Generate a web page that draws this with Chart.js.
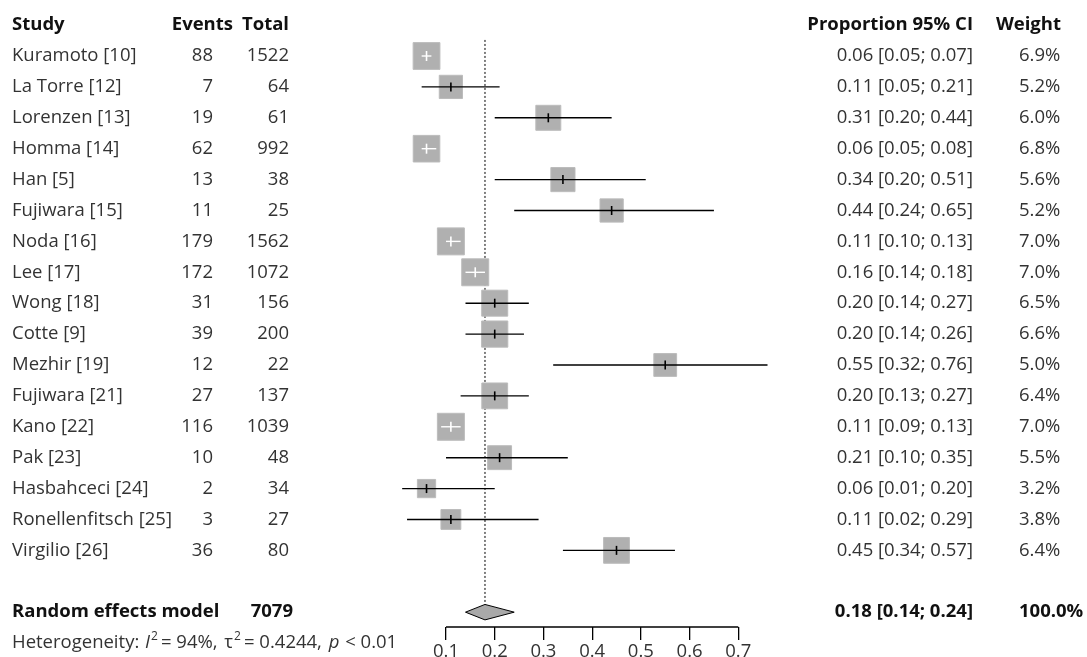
<!DOCTYPE html>
<html><head><meta charset="utf-8">
<script src="https://cdn.jsdelivr.net/npm/chart.js@4.4.1/dist/chart.umd.min.js"></script>
<style>html,body{margin:0;padding:0;background:#fff;overflow:hidden}#wrap{width:1087px;height:657px}</style>
</head><body><div id="wrap"><canvas id="c" width="1087" height="657"></canvas></div>
<script>
const studies = ["Kuramoto [10]","La Torre [12]","Lorenzen [13]","Homma [14]","Han [5]","Fujiwara [15]","Noda [16]","Lee [17]","Wong [18]","Cotte [9]","Mezhir [19]","Fujiwara [21]","Kano [22]","Pak [23]","Hasbahceci [24]","Ronellenfitsch [25]","Virgilio [26]"];
const events = [88,7,19,62,13,11,179,172,31,39,12,27,116,10,2,3,36];
const totals = [1522,64,61,992,38,25,1562,1072,156,200,22,137,1039,48,34,27,80];
const proportions = [0.06,0.11,0.31,0.06,0.34,0.44,0.11,0.16,0.20,0.20,0.55,0.20,0.11,0.21,0.06,0.11,0.45];
const ciLower = [0.05,0.05,0.20,0.05,0.20,0.24,0.10,0.14,0.14,0.14,0.32,0.13,0.09,0.10,0.01,0.02,0.34];
const ciUpper = [0.07,0.21,0.44,0.08,0.51,0.65,0.13,0.18,0.27,0.26,0.76,0.27,0.13,0.35,0.20,0.29,0.57];
const weights = [6.9,5.2,6.0,6.8,5.6,5.2,7.0,7.0,6.5,6.6,5.0,6.4,7.0,5.5,3.2,3.8,6.4];
const pooledEstimate = 0.18;
const pooledLower = 0.14;
const pooledUpper = 0.24;
const pooledTotal = 7079;
const pooledWeight = 100.0;
const axisTicks = [0.1,0.2,0.3,0.4,0.5,0.6,0.7];
const pooledRow = 18;
const hetRow = 19;

const FONT = '"Open Sans", "Noto Sans", sans-serif';
const FS = 18.5;
const side = i => 10.2 * Math.sqrt(weights[i]);
const inside = (chart, i) => {
  const xs = chart.scales.x;
  return (xs.getPixelForValue(ciUpper[i]) - xs.getPixelForValue(ciLower[i])) < side(i);
};

const squareData = studies.map((s, i) => ({x: proportions[i], y: i}));
const ciData = [];
studies.forEach((s, i) => { ciData.push({x: ciLower[i], y: i}, {x: ciUpper[i], y: i}, {x: null, y: null}); });
const dH = 0.25;
const diamondData = [
  {x: pooledLower, y: pooledRow}, {x: pooledEstimate, y: pooledRow - dH},
  {x: pooledUpper, y: pooledRow}, {x: pooledEstimate, y: pooledRow + dH},
  {x: pooledLower, y: pooledRow}
];
const refLine = [{x: pooledEstimate, y: -0.52}, {x: pooledEstimate, y: pooledRow - dH}];
const axisLine = [{x: axisTicks[0], y: 18.48}, {x: axisTicks[axisTicks.length - 1], y: 18.48}];

const textPlugin = {
  id: 'forestText',
  afterDraw(chart) {
    const ctx = chart.ctx;
    const Y = v => chart.scales.y.getPixelForValue(v);
    const reg = FS + 'px ' + FONT, bold = 'bold ' + FS + 'px ' + FONT;
    const txtCol = '#333', boldCol = '#111';
    ctx.save();
    ctx.textBaseline = 'middle';
    const t = (s, x, row, align, font, col) => { ctx.font = font; ctx.fillStyle = col; ctx.textAlign = align; ctx.fillText(s, x, Y(row)); };
    t('Study', 12, -1, 'left', bold, boldCol);
    t('Events', 233, -1, 'right', bold, boldCol);
    t('Total', 289, -1, 'right', bold, boldCol);
    t('Proportion 95% CI', 973, -1, 'right', bold, boldCol);
    t('Weight', 1061, -1, 'right', bold, boldCol);
    studies.forEach((s, i) => {
      t(s, 12, i, 'left', reg, txtCol);
      t(String(events[i]), 213, i, 'right', reg, txtCol);
      t(String(totals[i]), 289, i, 'right', reg, txtCol);
      t(proportions[i].toFixed(2) + ' [' + ciLower[i].toFixed(2) + '; ' + ciUpper[i].toFixed(2) + ']', 973, i, 'right', reg, txtCol);
      t(weights[i].toFixed(1) + '%', 1019, i, 'left', reg, txtCol);
    });
    t('Random effects model', 12, pooledRow, 'left', bold, boldCol);
    t(String(pooledTotal), 293, pooledRow, 'right', bold, boldCol);
    t(pooledEstimate.toFixed(2) + ' [' + pooledLower.toFixed(2) + '; ' + pooledUpper.toFixed(2) + ']', 973, pooledRow, 'right', bold, boldCol);
    t(pooledWeight.toFixed(1) + '%', 1019, pooledRow, 'left', bold, boldCol);
    // heterogeneity line
    const it = 'italic ' + FS + 'px ' + FONT, sup = '12px ' + FONT;
    const parts = [
      ['Heterogeneity: ', reg, 0, 1], ['I', it, 0, 1], ['2', sup, -6, 3],
      ['= 94%, ', reg, 0, 2], ['\u03C4', reg, 0, 1], ['2', sup, -6, 3],
      ['= 0.4244, ', reg, 0, 2], ['p', it, 0, 1], [' < 0.01', reg, 0, 0]
    ];
    let x = 12; const yy = Y(hetRow);
    ctx.textAlign = 'left'; ctx.fillStyle = txtCol;
    parts.forEach(([s, f, dy, gap]) => { ctx.font = f; ctx.fillText(s, x, yy + dy); x += ctx.measureText(s).width + gap; });
    ctx.restore();
  }
};

new Chart(document.getElementById('c'), {
  type: 'scatter',
  data: {
    datasets: [
      { label: 'pooled', data: diamondData, showLine: true, fill: 'shape', backgroundColor: '#a9a9a9',
        borderColor: '#000', borderWidth: 1, pointRadius: 0, clip: false, order: 0, tension: 0 },
      { label: 'est', data: squareData, pointStyle: 'line', rotation: 90,
        pointRadius: c => inside(c.chart, c.dataIndex) ? 5 : 4.5,
        borderColor: c => inside(c.chart, c.dataIndex) ? '#fff' : '#000',
        borderWidth: 1.6, clip: false, order: 1 },
      { label: 'ci', data: ciData, showLine: true, pointRadius: 0, borderWidth: 1.4, borderColor: '#000',
        segment: { borderColor: c => inside(c.chart, Math.floor(c.p0DataIndex / 3)) ? '#fff' : '#000' },
        spanGaps: false, clip: false, order: 2 },
      { label: 'squares', data: squareData, pointStyle: 'rect',
        pointRadius: c => side(c.dataIndex) / Math.SQRT2,
        backgroundColor: '#b0b0b0', borderColor: '#bcbcbc', borderWidth: 1, clip: false, order: 3 },
      { label: 'ref', data: refLine, showLine: true, pointRadius: 0, borderColor: '#000', borderWidth: 1,
        borderDash: [2, 2], clip: false, order: 4 },
      { label: 'axis', data: axisLine, showLine: true, pointRadius: 0, borderColor: '#000', borderWidth: 1.3,
        clip: false, order: 5 }
    ]
  },
  options: {
    responsive: false,
    animation: false,
    events: [],
    layout: { autoPadding: false, padding: { left: 397.3, right: 300, top: 9.65, bottom: 0 } },
    plugins: { legend: { display: false }, tooltip: { enabled: false } },
    scales: {
      x: {
        type: 'linear', min: 0, max: 0.8,
        afterBuildTicks: s => { s.ticks = axisTicks.map(v => ({value: v})); },
        afterFit: s => { s.height = 30; },
        border: { display: false },
        grid: { display: true, drawOnChartArea: false, drawTicks: true, tickLength: 13, color: '#000', lineWidth: 1.3 },
        ticks: { padding: 1, color: '#333', font: { family: FONT, size: FS }, callback: v => Number(v).toFixed(1), maxRotation: 0, autoSkip: false }
      },
      y: { type: 'linear', display: false, reverse: true, min: -1.5, max: 18.48 }
    }
  },
  plugins: [textPlugin]
});
</script>
</body></html>
